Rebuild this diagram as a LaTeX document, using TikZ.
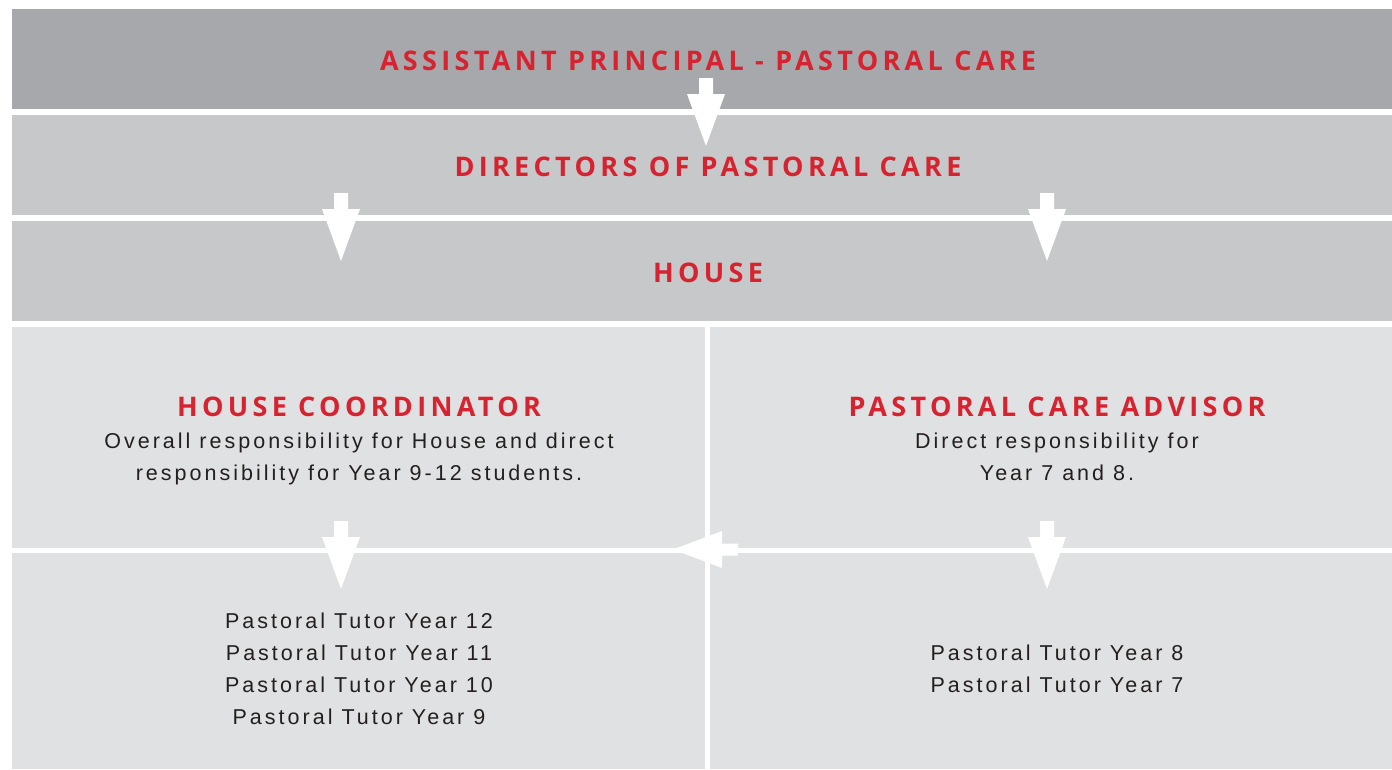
\documentclass[tikz,border=0pt]{standalone}
\usepackage{fontspec}
\setmainfont{Liberation Sans}
\newfontfamily\headfont[LetterSpace=16]{Open Sans}
\newfontfamily\bodyfont[LetterSpace=14]{Liberation Sans}
\definecolor{bandA}{RGB}{167,168,172}
\definecolor{bandB}{RGB}{199,200,202}
\definecolor{bandC}{RGB}{224,225,226}
\definecolor{acred}{RGB}{214,35,47}
\definecolor{txt}{RGB}{35,31,32}
\tikzset{
  head/.style={font=\headfont\bfseries\fontsize{27}{27}\selectfont, text=acred, anchor=base, inner sep=0pt},
  body/.style={font=\bodyfont\fontsize{21.5}{21.5}\selectfont, text=txt, anchor=base, inner sep=0pt},
  downarr/.pic={\fill[white] (-7,0) -- (7,0) -- (7,16) -- (19,16) -- (0,68) -- (-19,16) -- (-7,16) -- cycle;},
  leftarr/.pic={\fill[white] (0,-6) -- (0,6) -- (-16,6) -- (-16,18.5) -- (-65,0) -- (-16,-18.5) -- (-16,-6) -- cycle;}
}
\begin{document}
\begin{tikzpicture}[x=1pt,y=-1pt]
\useasboundingbox (0,0) rectangle (1392,769);
% bands
\fill[bandA] (12,9) rectangle (1392,109);
\fill[bandB] (12,115) rectangle (1392,215);
\fill[bandB] (12,221) rectangle (1392,321);
\fill[bandC] (12,327) rectangle (1392,769);
\fill[white] (12,548) rectangle (1392,553);
\fill[white] (705,327) rectangle (710,769);
% headers
\node[head] (ap) at (708,70) {ASSISTANT PRINCIPAL - PASTORAL CARE};
\node[head] (dir) at (708,176) {DIRECTORS OF PASTORAL CARE};
\node[head] (house) at (708,282) {HOUSE};
\node[head] (hc) at (359,416) {HOUSE COORDINATOR};
\node[head] (pca) at (1057,416) {PASTORAL CARE ADVISOR};
% descriptions
\node[body] (hcA) at (359,448) {Overall responsibility for House and direct};
\node[body] (hcB) at (359,480) {responsibility for Year 9-12 students.};
\node[body] (pcaA) at (1057,448) {Direct responsibility for};
\node[body] (pcaB) at (1057,480) {Year 7 and 8.};
% tutors
\node[body] (t12) at (359,628) {Pastoral Tutor Year 12};
\node[body] (t11) at (359,660) {Pastoral Tutor Year 11};
\node[body] (t10) at (359,692) {Pastoral Tutor Year 10};
\node[body] (t9) at (359,724) {Pastoral Tutor Year 9};
\node[body] (t8) at (1057,660) {Pastoral Tutor Year 8};
\node[body] (t7) at (1057,692) {Pastoral Tutor Year 7};
% arrows
\pic at (706,78) {downarr};
\pic at (341,193) {downarr};
\pic at (1047,193) {downarr};
\pic at (341,521) {downarr};
\pic at (1047,521) {downarr};
\pic at (738,549.5) {leftarr};
\end{tikzpicture}
\end{document}
